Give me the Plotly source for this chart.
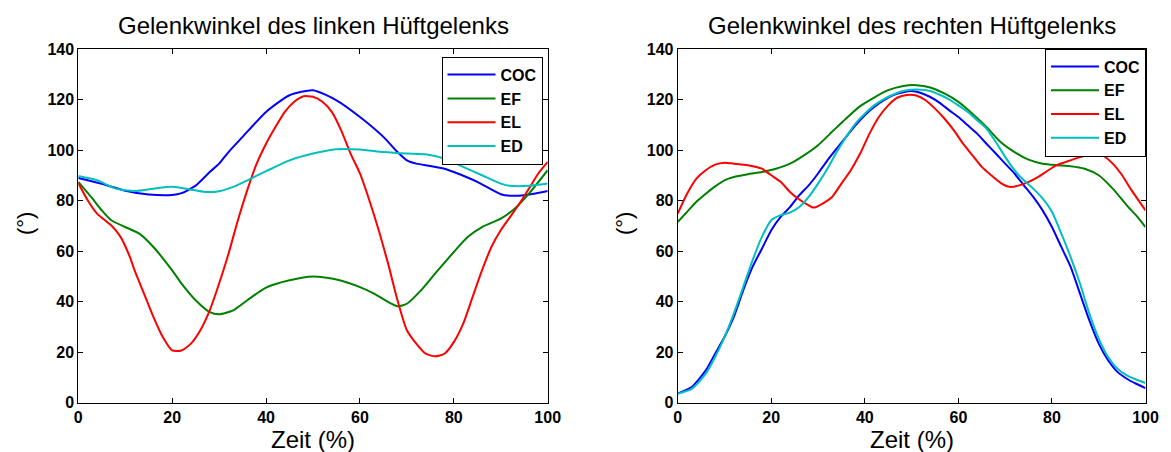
import plotly.graph_objects as go

W, H = 1171, 452

# ---------------- data: left hip ----------------
left_coc_x = [0, 5, 10, 15, 20, 22, 25, 28, 30, 32, 35, 40, 45, 50, 55, 60, 65, 68, 70, 72, 75, 78, 80, 85, 90, 92, 95, 100]
left_coc_y = [89, 86.7, 84, 82.5, 82.3, 83, 86, 91.4, 94.7, 99.3, 105.3, 115.2, 121.8, 123.8, 119.8, 113.2, 105.3, 99.3, 96, 94.7, 93.8, 92.7, 91.4, 87.5, 82.6, 82, 82.2, 83.9]

left_ef_x = [0, 3, 5, 7, 10, 13, 16, 20, 22, 25, 28, 30, 33, 36, 40, 45, 50, 55, 60, 63, 66, 68, 70, 73, 76, 80, 83, 86, 90, 93, 96, 100]
left_ef_y = [87.5, 80.9, 76.2, 72.3, 69.6, 67, 61.7, 52.4, 47.2, 40.6, 35.9, 35, 36.6, 40.6, 45.6, 48.5, 50, 48.8, 45.8, 43.2, 39.9, 38.2, 39.2, 44.5, 51.1, 59.7, 65.7, 69.6, 72.9, 76.9, 82.8, 92.1]

left_el_x = [0, 2, 4, 7, 9, 11, 12, 14, 16, 18, 20, 22, 24, 26, 28, 30, 32, 34, 36, 38, 40, 42, 44, 46, 48, 50,
             52, 54, 56, 58, 60, 62, 64, 66, 68, 70, 72, 74, 76, 78, 80, 82, 84, 86, 88, 90, 92, 94, 96, 98, 100]
left_el_y = [87, 80.2, 74.9, 70.3, 65.7, 57.7, 52.4, 43.2, 34, 26, 20.7, 20.7, 23.4, 28.7, 36.6, 47.2, 59, 72.3, 84.2, 94.7,
             102.6, 109.2, 115.2, 119.2, 121.4, 121.2, 119.2, 115.2, 107.9, 98.7, 90.8, 80.2, 68.3, 55.1, 40.6, 28.7, 23.4,
             19.4, 18.4, 19.4, 24, 31.3, 41.9, 52.4, 61.7, 68.3, 73.6, 78.9, 84.8, 90.8, 95.4]

left_ed_x = [0, 4, 8, 12, 16, 20, 24, 27, 30, 33, 36, 40, 45, 50, 55, 60, 65, 70, 74, 78, 82, 86, 90, 92, 96, 100]
left_ed_y = [89.8, 88.1, 84.8, 83.9, 84.8, 85.5, 84.4, 83.5, 83.8, 85.5, 88.1, 91.7, 96, 98.7, 100.4, 100.3, 99.3, 98.7, 98.4, 96.7, 93.4, 90.1, 86.8, 85.9, 85.9, 86.8]

# ---------------- data: right hip ----------------
right_x = [0, 3, 6, 8, 10, 12, 14, 16, 18, 20, 22, 24, 26, 28, 30, 32, 34, 36, 38, 40, 42, 44, 46, 48, 50,
           52, 54, 56, 58, 60, 62, 64, 66, 68, 70, 72, 74, 76, 78, 80, 82, 84, 86, 88, 90, 92, 94, 96, 98, 100]
right_coc_y = [3.6, 6.2, 12.8, 19.4, 26, 34, 44.5, 53.8, 61, 68.3, 73.6, 77.5, 82.2, 86.1, 90.8, 96, 100.7, 105.3, 109.9, 113.9,
               117.2, 119.8, 121.8, 122.9, 123.5, 122.7, 121.1, 118.8, 115.9, 113.2, 109.9, 106.6, 102.6, 98.7, 94.7, 90.8,
               86.1, 81.5, 76.2, 69.6, 61.7, 53.8, 43.2, 32.6, 23.4, 16.8, 12.2, 9.5, 7.5, 5.8]
right_ed_y = [3.6, 5.5, 11.5, 18.1, 26, 35.3, 45.8, 56.4, 65.7, 72.3, 74.3, 75.3, 77.5, 81.5, 86.8, 92.7, 99.3, 105.3, 110.6, 114.5,
              117.8, 120.2, 122, 123.4, 124, 124, 123.5, 122, 120.2, 117.8, 115.2, 111.9, 108.6, 103.3, 97.4, 92.1, 88.1,
              84.8, 80.9, 75.6, 67, 57.7, 47.2, 35.3, 25.4, 18.1, 13.5, 10.8, 9.2, 7.8]

right_ef_x = [0, 2, 4, 6, 8, 10, 12, 15, 18, 21, 24, 27, 30, 33, 36, 39, 42, 45, 48, 51, 54, 57, 60, 63, 66, 69, 72, 75, 78,
              81, 84, 87, 90, 93, 96, 98, 100]
right_ef_y = [71.6, 75.6, 79.6, 82.8, 85.7, 88.1, 89.4, 90.5, 91.4, 92.7, 94.7, 98, 102, 107.3, 112.6, 117.5, 120.9, 123.8,
              125.4, 125.8, 124.9, 122.5, 119.2, 114.5, 109.2, 103.3, 99.3, 96.3, 94.7, 94.1, 93.7, 92.7, 90.1, 84.8, 78.2, 74.2, 69.6]

right_el_x = [0, 2, 4, 6, 8, 10, 12, 15, 18, 20, 22, 24, 26, 28, 29, 31, 33, 35, 37, 39, 41, 43, 45, 47, 49, 51, 53, 55, 57,
              59, 61, 63, 65, 67, 69, 71, 73, 75, 77, 79, 81, 83, 85, 87, 89, 91, 93, 95, 97, 100]
right_el_y = [74.9, 82.8, 88.8, 92.1, 94.3, 95.1, 94.7, 94.1, 92.7, 90.1, 87.5, 83.5, 80.5, 78.2, 77.3, 78.9, 81.5, 86.8, 92.1,
              98.7, 106.6, 113.2, 117.8, 120.9, 121.9, 121.7, 119.8, 116.5, 112.6, 108, 102.6, 98, 93.4, 90.1, 87.1, 85.5,
              86.1, 87.5, 89.4, 91.8, 94.1, 95.4, 96.7, 97.8, 98.4, 97.8, 94.7, 90.1, 84.2, 76.2]

series_names = ["COC", "EF", "EL", "ED"]
colors = ["#0000FF", "#008000", "#FF0000", "#00BFBF"]

titles = ["Gelenkwinkel des linken Hüftgelenks", "Gelenkwinkel des rechten Hüftgelenks"]
x_title = "Zeit (%)"
y_title = "(°)"
x_ticks = [0, 20, 40, 60, 80, 100]
y_ticks = [0, 20, 40, 60, 80, 100, 120, 140]

left_data = [(left_coc_x, left_coc_y), (left_ef_x, left_ef_y), (left_el_x, left_el_y), (left_ed_x, left_ed_y)]
right_data = [(right_x, right_coc_y), (right_ef_x, right_ef_y), (right_el_x, right_el_y), (right_x, right_ed_y)]

fig = go.Figure()
for i, (xs, ys) in enumerate(left_data):
    fig.add_trace(go.Scatter(x=xs, y=ys, mode="lines", name=series_names[i],
                             line=dict(color=colors[i], width=2, shape="spline", smoothing=0.6),
                             xaxis="x", yaxis="y", legend="legend"))
for i, (xs, ys) in enumerate(right_data):
    fig.add_trace(go.Scatter(x=xs, y=ys, mode="lines", name=series_names[i],
                             line=dict(color=colors[i], width=2, shape="spline", smoothing=0.6),
                             xaxis="x2", yaxis="y2", legend="legend2"))

FONT = "Liberation Sans, Arial, sans-serif"
px_x = lambda p: p / W
px_y = lambda p: (H - p) / H

y_dom = [px_y(402.7), px_y(49.3)]
x_dom_l = [px_x(78.3), px_x(547.7)]
x_dom_r = [px_x(677.7), px_x(1145.5)]

axis_common = dict(showline=True, linecolor="black", linewidth=1, mirror="allticks",
                   ticks="inside", ticklen=5, tickcolor="black", tickwidth=1,
                   showgrid=False, zeroline=False, automargin=False,
                   tickfont=dict(family=FONT, size=16, color="black", weight="bold"))

legend_font = dict(family=FONT, size=16, color="black", weight="bold")

fig.update_layout(
    width=W, height=H, margin=dict(l=0, r=0, t=0, b=0, autoexpand=False),
    paper_bgcolor="white", plot_bgcolor="white",
    xaxis=dict(domain=x_dom_l, range=[0, 100], tickvals=x_ticks, anchor="y", **axis_common),
    yaxis=dict(domain=y_dom, range=[0, 140], tickvals=y_ticks, anchor="x", **axis_common),
    xaxis2=dict(domain=x_dom_r, range=[0, 100], tickvals=x_ticks, anchor="y2", **axis_common),
    yaxis2=dict(domain=y_dom, range=[0, 140], tickvals=y_ticks, anchor="x2", **axis_common),
    legend=dict(x=px_x(542.5), y=px_y(56.7), xanchor="right", yanchor="top",
                bgcolor="white", bordercolor="black", borderwidth=1,
                font=legend_font, itemwidth=48),
    legend2=dict(x=px_x(1146), y=px_y(48.5), xanchor="right", yanchor="top",
                 bgcolor="white", bordercolor="black", borderwidth=1,
                 font=legend_font, itemwidth=48),
    showlegend=True,
)

annotations = []
for dom, t in zip([x_dom_l, x_dom_r], titles):
    cx = (dom[0] + dom[1]) / 2
    annotations.append(dict(text=t, x=cx, y=px_y(25), xref="paper", yref="paper",
                            xanchor="center", yanchor="middle", showarrow=False,
                            font=dict(family=FONT, size=24, color="black")))
    annotations.append(dict(text=x_title, x=cx, y=px_y(439), xref="paper", yref="paper",
                            xanchor="center", yanchor="middle", showarrow=False,
                            font=dict(family=FONT, size=24, color="black")))
for xc in [25, 624]:
    annotations.append(dict(text=y_title, x=px_x(xc), y=px_y(224), xref="paper", yref="paper",
                            xanchor="center", yanchor="middle", showarrow=False, textangle=-90,
                            font=dict(family=FONT, size=22, color="black")))
fig.update_layout(annotations=annotations)

fig.write_html("out.html")
